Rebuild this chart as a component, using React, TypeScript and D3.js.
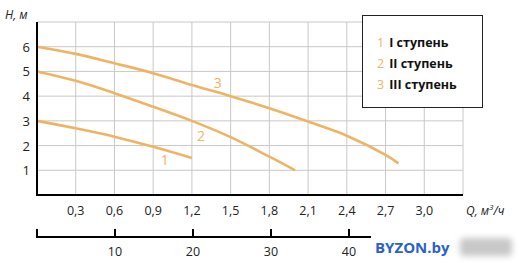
import React from "react";
import * as d3 from "d3";

const qTicks = [0.3, 0.6, 0.9, 1.2, 1.5, 1.8, 2.1, 2.4, 2.7, 3.0];
const hTicks = [1, 2, 3, 4, 5, 6];
const lTicks = [10, 20, 30, 40];

const q1 = [0, 0.3, 0.6, 0.9, 1.2];
const h1 = [3.0, 2.7, 2.36, 1.95, 1.5];
const q2 = [0, 0.3, 0.6, 0.9, 1.2, 1.5, 1.8, 2.0];
const h2 = [5.0, 4.62, 4.12, 3.57, 3.0, 2.34, 1.55, 1.0];
const q3 = [0, 0.3, 0.6, 0.9, 1.2, 1.5, 1.8, 2.1, 2.4, 2.7, 2.8];
const h3 = [6.0, 5.71, 5.33, 4.93, 4.45, 4.0, 3.51, 2.97, 2.4, 1.62, 1.28];

const seriesNames = ["I ступень", "II ступень", "III ступень"];
const curveLabels = [
  { id: "1", q: 0.99, h: 1.45 },
  { id: "2", q: 1.27, h: 2.4 },
  { id: "3", q: 1.4, h: 4.55 },
];

const ORANGE = "#EFB463";
const FONT = "'Open Sans', sans-serif";

export default function App() {
  const x = d3.scaleLinear().domain([0, 3.3]).range([37, 463]);
  const y = d3.scaleLinear().domain([0, 7]).range([195, 22]);
  const xl = d3.scaleLinear().domain([0, 10]).range([37, 115]);
  const line = d3
    .line<[number, number]>()
    .x((d) => x(d[0]))
    .y((d) => y(d[1]))
    .curve(d3.curveCatmullRom.alpha(0.5));
  const series = [
    q1.map((q, i) => [q, h1[i]] as [number, number]),
    q2.map((q, i) => [q, h2[i]] as [number, number]),
    q3.map((q, i) => [q, h3[i]] as [number, number]),
  ];
  const gridX = [...qTicks, 3.3];
  const gridY = [...hTicks, 7];
  return (
    <svg
      width={522}
      height={263}
      style={{ position: "absolute", left: 0, top: 0, background: "#fff" }}
    >
      <rect x={0} y={0} width={522} height={263} fill="#fff" />
      {gridX.map((q) => (
        <line key={"gx" + q} x1={x(q)} x2={x(q)} y1={y(7)} y2={y(0)} stroke="#c8c8c8" strokeWidth={1} />
      ))}
      {gridY.map((h) => (
        <line key={"gy" + h} x1={x(0)} x2={x(3.3)} y1={y(h)} y2={y(h)} stroke="#c8c8c8" strokeWidth={1} />
      ))}
      {series.map((s, i) => (
        <path key={"s" + i} d={line(s) || ""} fill="none" stroke={ORANGE} strokeWidth={2.6} />
      ))}
      {curveLabels.map((c) => (
        <text key={"cl" + c.id} x={x(c.q)} y={y(c.h)} fill={ORANGE} fontFamily={FONT} fontSize={14} textAnchor="middle" dominantBaseline="central">
          {c.id}
        </text>
      ))}
      <line x1={x(0)} x2={x(0)} y1={y(7)} y2={y(0) + 1} stroke="#000" strokeWidth={2} />
      <line x1={x(0) - 1} x2={x(3.3)} y1={y(0)} y2={y(0)} stroke="#000" strokeWidth={2} />
      {hTicks.map((h) => (
        <text key={"yt" + h} x={30} y={y(h)} fontFamily={FONT} fontSize={13} textAnchor="end" dominantBaseline="central" fill="#222">
          {h}
        </text>
      ))}
      <text x={5} y={19} fontFamily={FONT} fontSize={12} fontStyle="italic" fill="#222">
        H, м
      </text>
      {qTicks.map((q) => (
        <text key={"xt" + q} x={x(q)} y={210} fontFamily={FONT} fontSize={12.5} textAnchor="middle" dominantBaseline="central" fill="#222">
          {q.toFixed(1).replace(".", ",")}
        </text>
      ))}
      <text x={466} y={210} fontFamily={FONT} fontSize={12} fontStyle="italic" dominantBaseline="central" fill="#222">
        Q, м<tspan fontSize={8} dy={-4}>3</tspan>
        <tspan dy={4}>/ч</tspan>
      </text>
      <line x1={xl(0)} x2={x(3.3)} y1={237} y2={237} stroke="#000" strokeWidth={2} />
      {[0, ...lTicks].map((l) => (
        <line key={"lt" + l} x1={xl(l)} x2={xl(l)} y1={229} y2={238} stroke="#000" strokeWidth={2} />
      ))}
      {lTicks.map((l) => (
        <text key={"ltl" + l} x={xl(l)} y={251} fontFamily={FONT} fontSize={12.5} textAnchor="middle" dominantBaseline="central" fill="#222">
          {l}
        </text>
      ))}
      <rect x={362.5} y={15.5} width={120} height={92} fill="#fff" stroke="#222" strokeWidth={1} />
      {seriesNames.map((n, i) => (
        <text key={"lg" + i} x={377} y={42 + i * 21} fontFamily={FONT} fontSize={12.5} fontWeight="bold" dominantBaseline="central" fill="#111">
          <tspan fill={ORANGE} fontWeight="normal">{String(i + 1)}</tspan>
          <tspan dx={5}>{n}</tspan>
        </text>
      ))}
      <defs>
        <filter id="blur" x="-30%" y="-50%" width="160%" height="200%">
          <feGaussianBlur stdDeviation={3} />
        </filter>
      </defs>
      <rect x={371} y={230} width={151} height={33} fill="#fff" />
      <rect x={460} y={238} width={52} height={18} rx={4} fill="#c8c8c8" filter="url(#blur)" />
      <text x={375} y={247} fontFamily="'Open Sans', sans-serif" fontWeight="bold" fontSize={15} fill="#2a62c9" dominantBaseline="central">
        BYZON.by
      </text>
    </svg>
  );
}
